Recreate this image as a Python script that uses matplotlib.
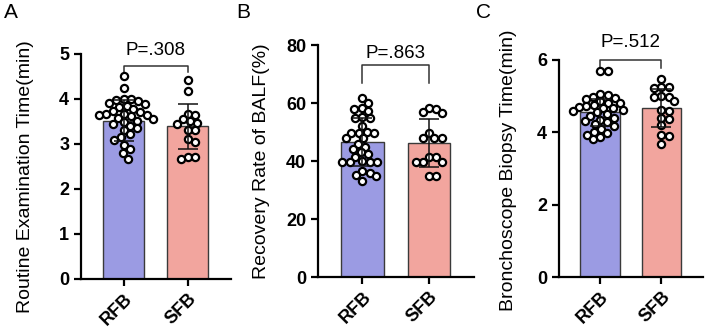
import numpy as np
import matplotlib.pyplot as plt

plt.rcParams['font.family'] = ['Liberation Sans', 'DejaVu Sans']

# DATA
groups = ["RFB", "SFB"]
bar_colors = ["#9b9be3", "#f2a59e"]

a_rfb = [4.50, 4.25, 4.00, 4.00, 3.98, 3.96, 3.92, 3.88, 3.85, 3.82, 3.78, 3.74, 3.70, 3.67, 3.66,
         3.65, 3.64, 3.62, 3.58, 3.55, 3.52, 3.48, 3.45, 3.40, 3.36, 3.30, 3.22, 3.15, 3.08, 2.98,
         2.88, 2.80, 2.67]
a_sfb = [4.42, 4.17, 3.67, 3.65, 3.55, 3.50, 3.47, 3.45, 3.30, 3.30, 3.10, 3.05, 2.72, 2.70, 2.66]
a_mean = [3.52, 3.39]
a_sd = [0.45, 0.50]

b_rfb = [61.6, 59.9, 58.3, 58.0, 57.2, 55.2, 55.0, 54.8, 52.0, 50.0, 49.8, 49.8, 49.6, 48.0, 47.8,
         46.0, 45.0, 44.2, 43.0, 42.4, 41.5, 40.0, 39.8, 39.7, 39.6, 39.5, 36.5, 36.0, 35.2, 34.8,
         33.2]
b_sfb = [58.4, 58.1, 57.0, 56.7, 49.8, 48.1, 48.1, 48.1, 41.4, 41.4, 39.7, 39.7, 39.7, 34.9, 34.9]
b_mean = [46.6, 46.3]
b_sd = [8.2, 8.3]

c_rfb = [5.70, 5.68, 5.06, 5.02, 4.98, 4.95, 4.92, 4.85, 4.82, 4.80, 4.75, 4.72, 4.70, 4.68, 4.66,
         4.62, 4.58, 4.55, 4.50, 4.45, 4.40, 4.35, 4.32, 4.28, 4.22, 4.18, 4.10, 4.02, 3.98, 3.93,
         3.88, 3.82]
c_sfb = [5.47, 5.25, 5.24, 5.22, 5.00, 4.98, 4.97, 4.85, 4.62, 4.60, 4.40, 4.38, 4.20, 3.93, 3.90, 3.68]
c_mean = [4.55, 4.67]
c_sd = [0.38, 0.53]

panels = [
    dict(letter="A", pts=[a_rfb, a_sfb], mean=a_mean, sd=a_sd, ylim=5, yticks=[0, 1, 2, 3, 4, 5],
         ylabel="Routine Examination Time(min)", p="P=.308", br=(4.73, 4.59), ptxt=5.08,
         rect=[0.1146, 0.152, 0.2122, 0.684], lab=(-0.313, 0.453), lpos=(0.015, 0.962)),
    dict(letter="B", pts=[b_rfb, b_sfb], mean=b_mean, sd=b_sd, ylim=80, yticks=[0, 20, 40, 60, 80],
         ylabel="Recovery Rate of BALF(%)", p="P=.863", br=(73.1, 66.8), ptxt=77.2,
         rect=[0.4498, 0.158, 0.2207, 0.705], lab=(-0.308, 0.5), lpos=(0.344, 0.962)),
    dict(letter="C", pts=[c_rfb, c_sfb], mean=c_mean, sd=c_sd, ylim=6, yticks=[0, 2, 4, 6],
         ylabel="Bronchoscope Biopsy Time(min)", p="P=.512", br=(6.0, 5.77), ptxt=6.48,
         rect=[0.7907, 0.158, 0.2037, 0.66], lab=(-0.29, 0.49), lpos=(0.684, 0.962)),
]


def swarm(vals, ax, center, dpx=7.2):
    # simple beeswarm offsets in pixel space
    tr = ax.transData
    ys = np.array([tr.transform((center, v))[1] for v in vals])
    order = np.argsort(-ys)
    placed = []
    xs = np.zeros(len(vals))
    steps = np.arange(0, 60, 0.5)
    for i in order:
        for s in steps:
            done = False
            for off in ([s, -s] if s > 0 else [0]):
                if all((off - px) ** 2 + (ys[i] - py) ** 2 >= dpx ** 2 for px, py in placed):
                    xs[i] = off
                    placed.append((off, ys[i]))
                    done = True
                    break
            if done:
                break
    cx = tr.transform((center, 0))[0]
    return [tr.inverted().transform((cx + xs[i], ys[i]))[0] for i in range(len(vals))]


fig = plt.figure(figsize=(7.07, 3.29), dpi=100)

for pn in panels:
    ax = fig.add_axes(pn["rect"])
    x = np.arange(len(groups))
    ax.set_xlim(-0.67, 1.68)
    ax.set_ylim(0, pn["ylim"])
    ax.bar(x, pn["mean"], width=0.64, color=bar_colors, edgecolor="#3a3a3a", linewidth=1.0, zorder=1)
    for i, vals in enumerate(pn["pts"]):
        xs = swarm(vals, ax, x[i])
        ax.scatter(xs, vals, s=27, facecolor="white", edgecolor="black", linewidth=1.6, zorder=3,
                   clip_on=False)
    ax.errorbar(x, pn["mean"], yerr=pn["sd"], fmt="none", ecolor="#111111", elinewidth=1.1,
                capsize=7, capthick=1.1, zorder=4)
    y1, y0 = pn["br"]
    ax.plot([0, 0, 1, 1], [y0, y1, y1, y0], color="#333333", lw=1.1, clip_on=False)
    ax.text(0.5, pn["ptxt"], pn["p"], ha="center", va="center", fontsize=13.5)

    for s in ["top", "right"]:
        ax.spines[s].set_visible(False)
    for s in ["left", "bottom"]:
        ax.spines[s].set_linewidth(1.6)
    ax.set_yticks(pn["yticks"])
    ax.set_xticks(x)
    ax.set_xticklabels(groups, rotation=45, ha="right", rotation_mode="anchor",
                       fontsize=13.5, fontweight="bold")
    ax.tick_params(width=1.6, length=5, labelsize=13)
    ax.tick_params(axis="x", pad=3)
    for t in ax.get_yticklabels():
        t.set_fontweight("bold")
    ax.set_ylabel(pn["ylabel"], fontsize=14)
    ax.yaxis.set_label_coords(*pn["lab"])
    fig.text(pn["lpos"][0], pn["lpos"][1], pn["letter"], fontsize=15, ha="center", va="center")

fig.savefig("out.png", dpi=100)
